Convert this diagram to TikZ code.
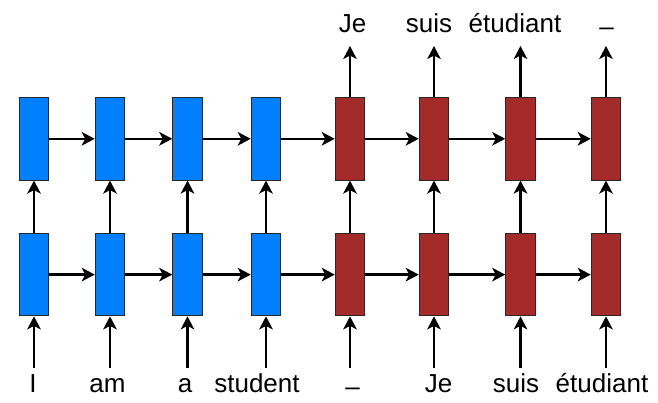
\documentclass[tikz,border=0pt]{standalone}
\usepackage{fontspec}
\setmainfont{Liberation Sans}
\usetikzlibrary{arrows.meta}
\definecolor{encblue}{RGB}{0,128,255}
\definecolor{decred}{RGB}{165,42,42}
\definecolor{boxedge}{RGB}{40,40,40}
\tikzset{
  cell/.style={draw=boxedge, line width=1pt, minimum width=29.5pt, minimum height=82.5pt, inner sep=0pt},
  enc/.style={cell, fill=encblue},
  dec/.style={cell, fill=decred},
  arr/.style={line width=2.5pt, -{Stealth[length=13pt,width=13.5pt,inset=3.5pt]}},
  word/.style={font=\fontsize{26}{30}\selectfont, anchor=base, inner sep=0pt}
}
\begin{document}
\begin{tikzpicture}[x=1pt,y=-1pt]
\useasboundingbox (0,0) rectangle (658,403);
% columns
\foreach \i/\x/\s in {1/34/enc,2/110/enc,3/187.5/enc,4/266/enc,5/350/dec,6/434/dec,7/520.5/dec,8/606/dec}{
  \node[\s] (b\i) at (\x,274.6) {};
  \node[\s] (t\i) at (\x,138.8) {};
  \coordinate (in\i) at (\x,368);
  \coordinate (out\i) at (\x,46);
}
% bottom words
\node[word] (w1) at (33,392) {I};
\node[word] (w2) at (107.5,392) {am};
\node[word] (w3) at (185,392) {a};
\node[word] (w4) at (257,392) {student};
\node[word] (w5) at (352.5,395) {–};
\node[word] (w6) at (438.5,392) {Je};
\node[word] (w7) at (516,392) {suis};
\node[word] (w8) at (602,392) {étudiant};
% top words
\node[word] (o1) at (352.5,33) {Je};
\node[word] (o2) at (429,33) {suis};
\node[word] (o3) at (515,33) {étudiant};
\node[word] (o4) at (606.5,36) {–};
% vertical arrows
\foreach \i in {1,...,8}{
  \draw[arr] (in\i) -- (b\i.south);
  \draw[arr] (b\i.north) -- (t\i.south);
}
\foreach \i in {5,...,8}{
  \draw[arr] (t\i.north) -- (out\i);
}
% horizontal arrows
\foreach \i/\j in {1/2,2/3,3/4,4/5,5/6,6/7,7/8}{
  \draw[arr] (b\i.east) -- (b\j.west);
  \draw[arr] (t\i.east) -- (t\j.west);
}
\end{tikzpicture}
\end{document}
